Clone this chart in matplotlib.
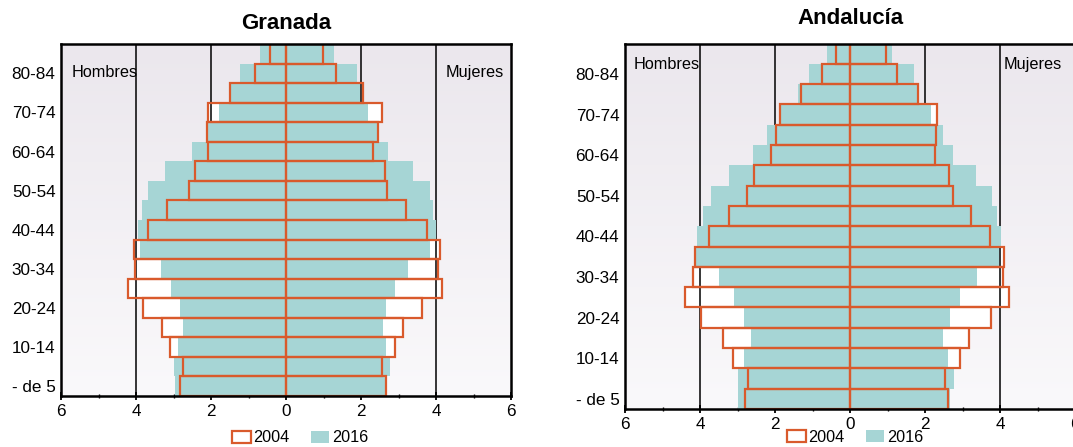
import numpy as np
import matplotlib.pyplot as plt
from matplotlib.patches import Patch
from matplotlib.colors import LinearSegmentedColormap
from matplotlib.ticker import FuncFormatter, MultipleLocator

# grupos de edad, de abajo (0-4) hacia arriba (85+)
age_groups = ["- de 5", "5-9", "10-14", "15-19", "20-24", "25-29", "30-34",
              "35-39", "40-44", "45-49", "50-54", "55-59", "60-64", "65-69",
              "70-74", "75-79", "80-84", "85+"]
tick_labels = ["- de 5", "10-14", "20-24", "30-34", "40-44", "50-54",
               "60-64", "70-74", "80-84"]

# Granada (% de la poblacion)
gra_men_2016 = [2.96, 2.99, 2.88, 2.75, 2.82, 3.06, 3.34, 3.89, 3.94, 3.84,
                3.68, 3.22, 2.50, 2.10, 1.78, 1.47, 1.22, 0.69]
gra_men_2004 = [2.83, 2.76, 3.09, 3.31, 3.81, 4.22, 4.03, 4.06, 3.67, 3.17,
                2.59, 2.43, 2.07, 2.12, 2.09, 1.49, 0.82, 0.43]
gra_women_2016 = [2.69, 2.77, 2.67, 2.59, 2.67, 2.91, 3.26, 3.84, 3.99, 3.92,
                  3.84, 3.38, 2.73, 2.42, 2.19, 1.97, 1.90, 1.29]
gra_women_2004 = [2.67, 2.56, 2.90, 3.13, 3.62, 4.16, 4.05, 4.11, 3.75, 3.20,
                  2.70, 2.64, 2.32, 2.46, 2.55, 2.04, 1.33, 0.98]

# Andalucia
and_men_2016 = [2.98, 2.99, 2.83, 2.64, 2.83, 3.09, 3.49, 4.11, 4.08, 3.91,
                3.70, 3.22, 2.58, 2.21, 1.83, 1.38, 1.09, 0.61]
and_men_2004 = [2.81, 2.73, 3.12, 3.39, 3.97, 4.40, 4.18, 4.13, 3.76, 3.22,
                2.74, 2.56, 2.10, 1.97, 1.87, 1.30, 0.74, 0.38]
and_women_2016 = [2.66, 2.76, 2.61, 2.48, 2.66, 2.93, 3.38, 3.97, 4.02, 3.91,
                  3.79, 3.36, 2.74, 2.48, 2.16, 1.78, 1.70, 1.11]
and_women_2004 = [2.62, 2.54, 2.93, 3.17, 3.75, 4.23, 4.09, 4.11, 3.72, 3.22,
                  2.74, 2.65, 2.27, 2.29, 2.32, 1.82, 1.25, 0.95]

TEAL = '#a6d5d5'
ORANGE = '#d95a2c'

plt.rcParams['font.family'] = ['Liberation Sans', 'DejaVu Sans']


def pyramid(fig, rect, title, pad, men16, men04, wom16, wom04, txt_y, txt_x, legend_xy):
    ax = fig.add_axes(rect)
    y = np.arange(len(age_groups)) + 0.5

    # fondo degradado
    grad = np.linspace(0, 1, 256).reshape(-1, 1)
    bg = LinearSegmentedColormap.from_list('bg', ['#ebe7ed', '#faf9fb'])
    ax.imshow(grad, extent=[-6, 6, 0, 18], aspect='auto', zorder=0, cmap=bg, origin='upper')

    m04 = -np.array(men04)
    m16 = -np.array(men16)

    ax.barh(y, m04, height=1.0, color='white', zorder=1)
    ax.barh(y, wom04, height=1.0, color='white', zorder=1)
    for v in [-4, -2, 2, 4]:
        ax.axvline(v, color='black', lw=1.1, zorder=1.5)
    ax.barh(y, m16, height=1.0, color=TEAL, zorder=2)
    ax.barh(y, wom16, height=1.0, color=TEAL, zorder=2)
    ax.barh(y, m04, height=1.0, fill=False, edgecolor=ORANGE, lw=1.6, zorder=3)
    ax.barh(y, wom04, height=1.0, fill=False, edgecolor=ORANGE, lw=1.6, zorder=3)

    ax.set_xlim(-6, 6)
    ax.set_ylim(0, 18)
    ax.set_yticks(y[::2])
    ax.set_yticklabels(tick_labels)
    ax.tick_params(axis='y', length=0, labelsize=12.3, pad=4)
    ax.xaxis.set_major_locator(MultipleLocator(2))
    ax.xaxis.set_minor_locator(MultipleLocator(1))
    ax.xaxis.set_major_formatter(FuncFormatter(lambda v, p: '%d' % abs(v)))
    ax.tick_params(axis='x', which='major', direction='inout', length=6, width=1.3,
                   labelsize=12.3, pad=2.5)
    ax.tick_params(axis='x', which='minor', direction='inout', length=3, width=1)
    for s in ax.spines.values():
        s.set_linewidth(1.8)
        s.set_zorder(4)

    ax.set_title(title, fontsize=16, fontweight='bold', pad=pad)
    ax.text(txt_x[0], txt_y, 'Hombres', fontsize=11.7, ha='left', va='center', zorder=5)
    ax.text(txt_x[1], txt_y, 'Mujeres', fontsize=11.7, ha='right', va='center', zorder=5)

    handles = [Patch(facecolor='white', edgecolor=ORANGE, lw=1.6, label='2004'),
               Patch(facecolor=TEAL, label='2016')]
    ax.legend(handles=handles, loc='center', ncol=2, frameon=False, fontsize=11.7,
              bbox_to_anchor=legend_xy, bbox_transform=fig.transFigure,
              handlelength=1.15, handleheight=0.75, handletextpad=0.15,
              columnspacing=1.3, borderpad=0)
    return ax


def main():
    fig = plt.figure(figsize=(10.73, 4.47), dpi=100)

    pyramid(fig, [61 / 1073, 1 - 396 / 447, 450 / 1073, 352 / 447], 'Granada', 11,
            gra_men_2016, gra_men_2004, gra_women_2016, gra_women_2004,
            16.52, (-5.71, 5.81), (300 / 1073, 1 - 438 / 447))
    pyramid(fig, [625 / 1073, 1 - 409 / 447, 450 / 1073, 365.5 / 447], 'Andalucía', 14,
            and_men_2016, and_men_2004, and_women_2016, and_women_2004,
            16.96, (-5.77, 5.65), (855 / 1073, 1 - 437 / 447))

    fig.savefig('out.png', dpi=100)


if __name__ == "__main__":
    main()
